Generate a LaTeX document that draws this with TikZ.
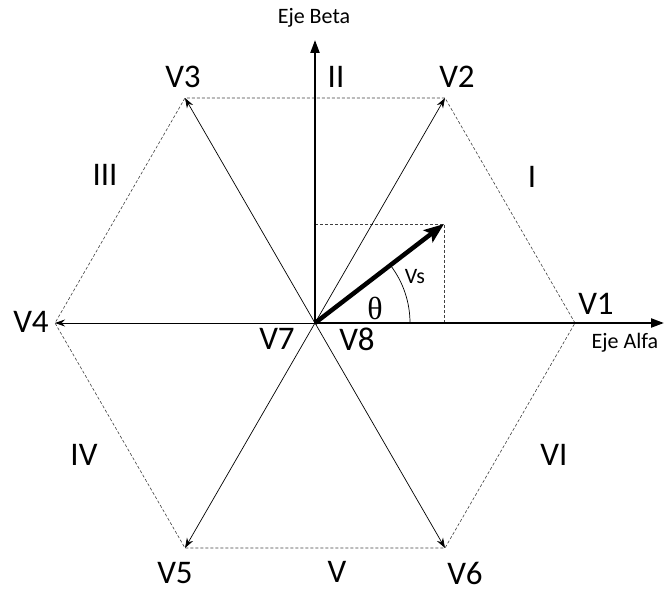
\documentclass[tikz,border=0pt]{standalone}
\usepackage{fontspec}
\setmainfont{Carlito}
\newfontfamily\thfont{Liberation Serif}
\usetikzlibrary{arrows.meta}
\begin{document}
\begin{tikzpicture}[x=1pt,y=-1pt,
  hexedge/.style={densely dashed, line width=0.6pt, black!75},
  vecline/.style={line width=0.7pt, -{Stealth[length=10pt,width=7pt]}},
  axisline/.style={line width=2.2pt, -{Triangle[length=13pt,width=9pt]}},
  vsline/.style={line width=4.5pt, -{Stealth[length=20pt,width=15pt,inset=4pt]}},
  boxline/.style={densely dashed, line width=0.6pt, black!75},
  lab/.style={font=\fontsize{33}{35}\selectfont, inner sep=0pt},
  small/.style={font=\fontsize{22}{24}\selectfont, inner sep=0pt}]
\useasboundingbox (0,0) rectangle (670,591);
\coordinate (O) at (315,323);
\coordinate (P1) at (575,323);
\coordinate (P2) at (445,98);
\coordinate (P3) at (185,98);
\coordinate (P4) at (55,323);
\coordinate (P5) at (185,548);
\coordinate (P6) at (445,548);
\coordinate (AX) at (664,323);
\coordinate (BY) at (315,40);
\coordinate (VS) at (444,224);
\coordinate (BX) at (444,323);
\coordinate (BT) at (315,224);
% hexagon
\draw[hexedge] (P1) -- (P2) -- (P3) -- (P4) -- (P5) -- (P6) -- cycle;
% box
\draw[boxline] (BT) -- (VS) -- (BX);
% vectors
\foreach \p in {P2,P3,P4,P5,P6} \draw[vecline] (O) -- (\p);
% axes
\draw[axisline] (O) -- (AX);
\draw[axisline] (O) -- (BY);
% theta arc
\draw[line width=0.7pt] (410,323) arc[start angle=0, end angle=-37.5, radius=95];
% Vs
\draw[vsline] (O) -- (VS);
% labels
\node[small] (eb) at (314,18) {Eje Beta};
\node[small] (ea) at (625,343) {Eje Alfa};
\node[lab] (l2r) at (336,77) {II};
\node[lab] (lV2) at (457,77) {V2};
\node[lab] (lV3) at (183,77) {V3};
\node[lab] (l1r) at (532,177) {I};
\node[lab] (l3r) at (105,175) {III};
\node[small] (lVs) at (415,277) {Vs};
\node[font=\fontsize{32}{34}\thfont, inner sep=0pt] (lth) at (375,308) {θ};
\node[lab] (lV1) at (596,304) {V1};
\node[lab] (lV4) at (31,322) {V4};
\node[lab] (lV7) at (277,339) {V7};
\node[lab] (lV8) at (357,339) {V8};
\node[lab] (l4r) at (84,455) {IV};
\node[lab] (l6r) at (554,455) {VI};
\node[lab] (lV5) at (175,573) {V5};
\node[lab] (l5r) at (337,572) {V};
\node[lab] (lV6) at (465,573) {V6};
\end{tikzpicture}
\end{document}
